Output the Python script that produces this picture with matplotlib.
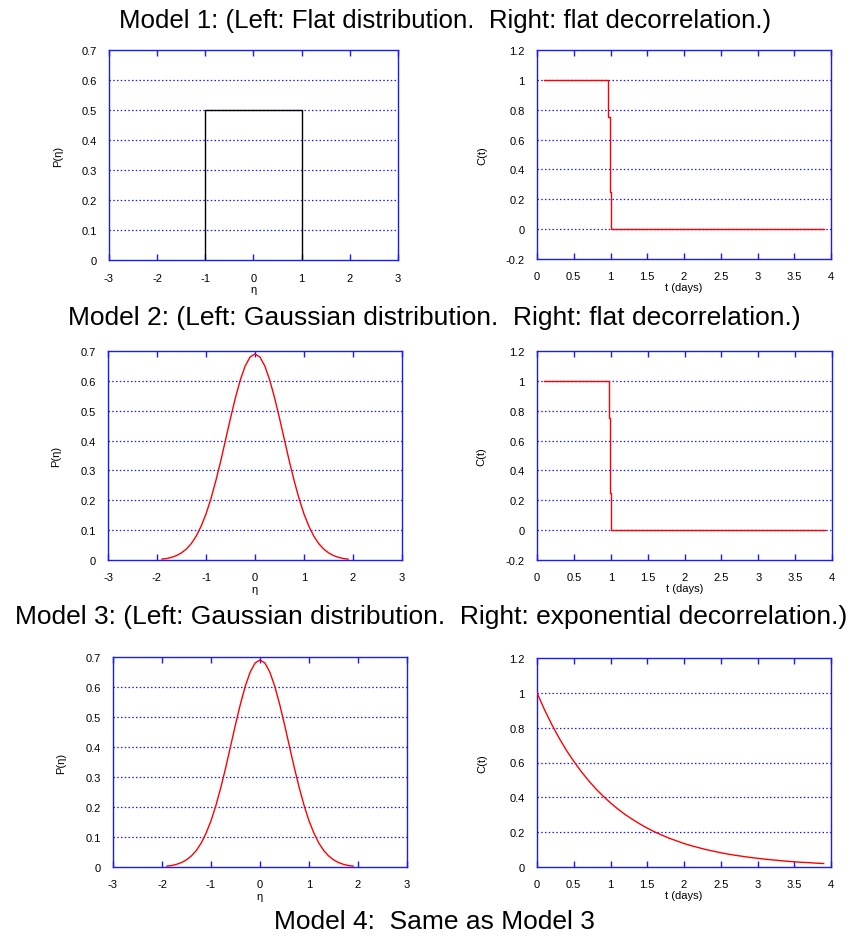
import matplotlib
matplotlib.use('Agg')
import matplotlib.pyplot as plt

plt.rcParams['font.family'] = ['Liberation Sans', 'DejaVu Sans']

W, H = 858, 937

# flat distribution
flat_eta = [-1, -1, 1, 1]
flat_p = [0, 0.5, 0.5, 0]

# gaussian distribution
gauss_eta = [-1.9, -1.8, -1.7, -1.6, -1.5, -1.4, -1.3, -1.2, -1.1, -1.0,
             -0.9, -0.8, -0.7, -0.6, -0.5, -0.4, -0.3, -0.2, -0.1, 0.0,
             0.1, 0.2, 0.3, 0.4, 0.5, 0.6, 0.7, 0.8, 0.9, 1.0,
             1.1, 1.2, 1.3, 1.4, 1.5, 1.6, 1.7, 1.8, 1.9]
gauss_p = [0.003, 0.005, 0.009, 0.015, 0.024, 0.037, 0.055, 0.080, 0.113, 0.154,
           0.205, 0.265, 0.331, 0.403, 0.475, 0.543, 0.603, 0.650, 0.680, 0.690,
           0.680, 0.650, 0.603, 0.543, 0.475, 0.403, 0.331, 0.265, 0.205, 0.154,
           0.113, 0.080, 0.055, 0.037, 0.024, 0.015, 0.009, 0.005, 0.003]

# flat decorrelation
step_t = [0.1, 0.97, 0.97, 0.99, 0.99, 1.0, 1.0, 3.9]
step_c = [1, 1, 0.75, 0.75, 0.25, 0.25, 0, 0]

# exponential decorrelation
exp_t = [0.0, 0.1, 0.2, 0.3, 0.4, 0.5, 0.6, 0.7, 0.8, 0.9,
         1.0, 1.1, 1.2, 1.3, 1.4, 1.5, 1.6, 1.7, 1.8, 1.9,
         2.0, 2.1, 2.2, 2.3, 2.4, 2.5, 2.6, 2.7, 2.8, 2.9,
         3.0, 3.1, 3.2, 3.3, 3.4, 3.5, 3.6, 3.7, 3.8, 3.9]
exp_c = [1.0, 0.905, 0.819, 0.741, 0.670, 0.607, 0.549, 0.497, 0.449, 0.407,
         0.368, 0.333, 0.301, 0.273, 0.247, 0.223, 0.202, 0.183, 0.165, 0.150,
         0.135, 0.122, 0.111, 0.100, 0.091, 0.082, 0.074, 0.067, 0.061, 0.055,
         0.050, 0.045, 0.041, 0.037, 0.033, 0.030, 0.027, 0.025, 0.022, 0.020]

eta_ticks = [-3, -2, -1, 0, 1, 2, 3]
p_ticks = [0, 0.1, 0.2, 0.3, 0.4, 0.5, 0.6, 0.7]
t_ticks = [0, 0.5, 1, 1.5, 2, 2.5, 3, 3.5, 4]
c_ticks_a = [-0.2, 0, 0.2, 0.4, 0.6, 0.8, 1, 1.2]
c_ticks_b = [0, 0.2, 0.4, 0.6, 0.8, 1, 1.2]

titles = ["Model 1: (Left: Flat distribution.  Right: flat decorrelation.)",
          "Model 2: (Left: Gaussian distribution.  Right: flat decorrelation.)",
          "Model 3: (Left: Gaussian distribution.  Right: exponential decorrelation.)",
          "Model 4:  Same as Model 3"]

BLUE = '#1a1aff'

fig = plt.figure(figsize=(W / 100, H / 100), dpi=100)


def box(x0, y0, x1, y1):
    return fig.add_axes([x0 / W, 1 - y1 / H, (x1 - x0) / W, (y1 - y0) / H])


def style(ax, xt, yt, xlabel, ylabel, xlab_y, ylab_x):
    ax.set_xlim(xt[0], xt[-1])
    ax.set_ylim(yt[0], yt[-1])
    ax.set_xticks(xt)
    ax.set_yticks(yt)
    ax.set_xticklabels(['%g' % v for v in xt])
    ax.set_yticklabels(['%g' % v for v in yt])
    for s in ax.spines.values():
        s.set_color(BLUE)
        s.set_linewidth(1.0)
    ax.tick_params(axis='x', direction='in', length=4, width=1, color=BLUE,
                   top=True, labelsize=8, pad=9)
    ax.tick_params(axis='y', direction='in', length=0, labelsize=8, pad=9)
    for v in yt[1:-1]:
        ax.axhline(v, color=BLUE, lw=0.9, ls=(0, (1.2, 1.8)), zorder=1)
    ax.set_xlabel(xlabel, fontsize=8)
    ax.xaxis.set_label_coords(0.5, xlab_y)
    ax.set_ylabel(ylabel, fontsize=8)
    ax.yaxis.set_label_coords(ylab_x, 0.5)


# row 1
ax = box(109, 51, 398, 261)
ax.plot(flat_eta, flat_p, color='black', lw=1.0, zorder=3)
style(ax, eta_ticks, p_ticks, 'η', 'P(η)', -0.115, -0.16)

ax = box(537, 51, 831, 260)
ax.plot(step_t, step_c, color='red', lw=1.0, zorder=3)
style(ax, t_ticks, c_ticks_a, 't (days)', 'C(t)', -0.112, -0.17)

# row 2
ax = box(108, 352, 402, 561)
ax.plot(gauss_eta, gauss_p, color='red', lw=1.0, zorder=3)
style(ax, eta_ticks, p_ticks, 'η', 'P(η)', -0.115, -0.16)

ax = box(537, 352, 832, 561)
ax.plot(step_t, step_c, color='red', lw=1.0, zorder=3)
style(ax, t_ticks, c_ticks_a, 't (days)', 'C(t)', -0.112, -0.17)

# row 3
ax = box(113, 658, 407, 868)
ax.plot(gauss_eta, gauss_p, color='red', lw=1.0, zorder=3)
style(ax, eta_ticks, p_ticks, 'η', 'P(η)', -0.115, -0.16)

ax = box(537, 659, 831, 868)
ax.plot(exp_t, exp_c, color='red', lw=1.0, zorder=3)
style(ax, t_ticks, c_ticks_b, 't (days)', 'C(t)', -0.112, -0.17)

fig.text(445 / W, 1 - 21 / H, titles[0], ha='center', va='center', fontsize=18.6)
fig.text(434 / W, 1 - 318 / H, titles[1], ha='center', va='center', fontsize=19)
fig.text(431 / W, 1 - 617 / H, titles[2], ha='center', va='center', fontsize=19)
fig.text(434 / W, 1 - 922 / H, titles[3], ha='center', va='center', fontsize=19)

fig.savefig('out.png', dpi=100)
